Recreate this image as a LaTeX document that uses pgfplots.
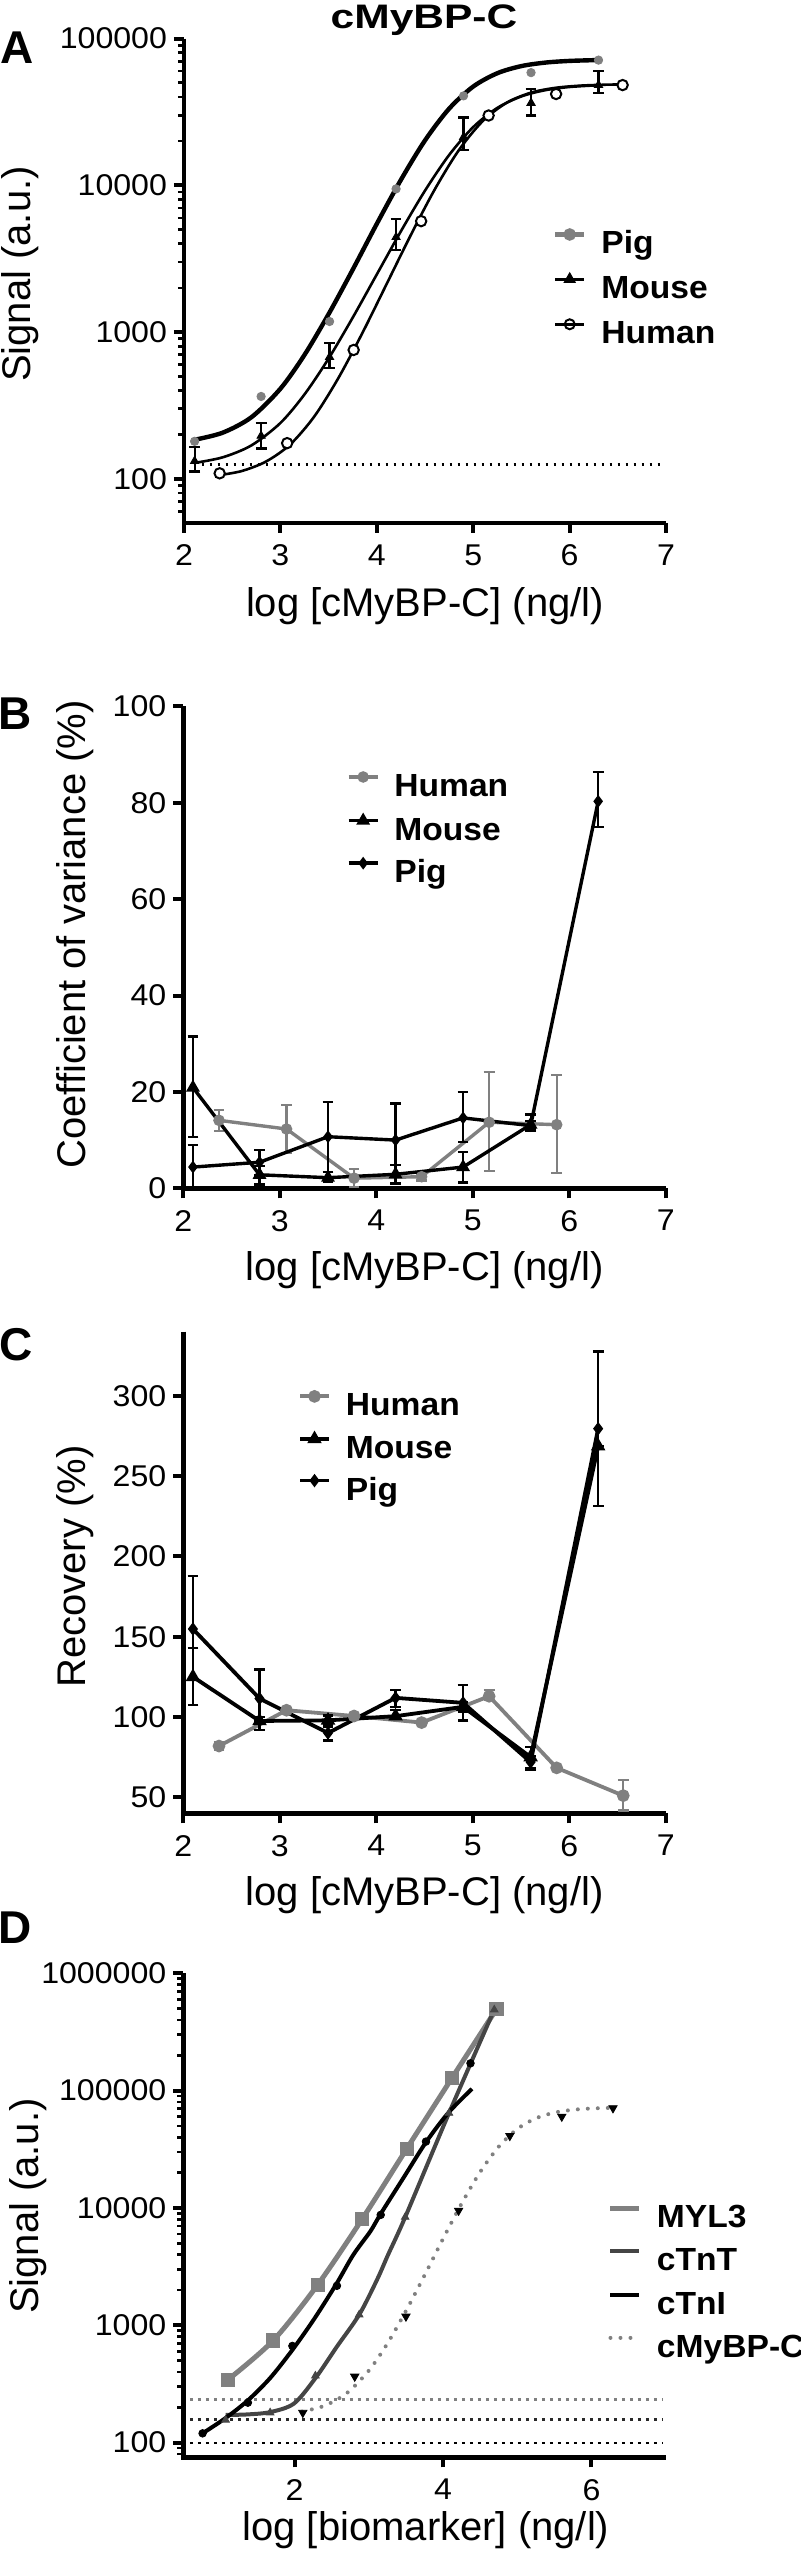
\documentclass[border=0pt]{standalone}
\usepackage{pgfplots}
\pgfplotsset{compat=1.18}
\usepackage{fontspec}
\setmainfont{Liberation Sans}
\newfontfamily\tickfont[FakeStretch=1.07]{Liberation Sans}
\newfontfamily\titlefont[FakeStretch=1.25]{Liberation Sans}
\newfontfamily\legfont[FakeStretch=1.05]{Liberation Sans}
\newcommand\tickf{\tickfont\fontsize{15}{15}\selectfont}
\newcommand\labf{\fontsize{20}{20}\selectfont}
\newcommand\legf{\legfont\bfseries\fontsize{16}{16}\selectfont}
\newcommand\titf{\titlefont\bfseries\fontsize{17}{17}\selectfont}
\newcommand\letf{\bfseries\fontsize{23}{23}\selectfont}
\definecolor{gr}{gray}{0.5}
\definecolor{dg}{gray}{0.27}

\pgfplotsset{
  panel/.style={
    scale only axis, clip=false,
    xtick pos=bottom, ytick pos=left,
    axis line style={draw=none},
    tick align=outside, major tick length=5pt, minor tick length=3pt,
    every tick/.style={black, line width=2pt},
    every minor tick/.append style={line width=1.3pt},
    ticklabel style={font=\tickf},
    xticklabel style={yshift=-2.5pt},
    legend style={draw=none, fill=none, inner sep=0pt, outer sep=0pt, anchor=north west,
      font=\legf, column sep=7.5pt, nodes={inner sep=0pt, text height=11pt, text depth=3pt}},
    legend cell align=left,
    legend image code/.code={\draw[mark repeat=2,mark phase=2,##1] plot coordinates {(0pt,5.75pt) (7.25pt,5.75pt) (14.5pt,5.75pt)};},
    every axis x label/.style={at={(axis description cs:0.5,-0.17)}, anchor=center, font=\labf},
    every axis y label/.style={at={(axis description cs:-0.22,0.5)}, anchor=center, rotate=90, font=\labf},
  },
  ebar/.style={/pgfplots/error bars/y dir=both, /pgfplots/error bars/y explicit,
    /pgfplots/error bars/error bar style={line width=1.1pt},
    /pgfplots/error bars/error mark options={rotate=90, line width=1.1pt, mark size=2.7pt}},
}
\newcommand\Lframe{\draw[black, line width=2.4pt, line join=miter, line cap=butt] (rel axis cs:0,1) -- (rel axis cs:0,0) -- (rel axis cs:1,0);}

% ---------- Panel A data ----------
\pgfplotstableread{
x y
2.11 180
2.80 364
3.51 1180
4.20 9450
4.90 40700
5.60 58600
6.30 71300
}\pigA
\pgfplotstableread{
x y ep em
2.11 132 33 20
2.80 196 43 35
3.51 675 170 105
4.20 4430 1430 790
4.90 21300 7700 3800
5.60 36400 9200 6500
6.30 48200 12000 5600
}\mouseA
\pgfplotstableread{
x y
2.37 109
3.07 175
3.76 755
4.46 5700
5.16 29900
5.86 41900
6.55 48200
}\humanA
% ---------- Panel B data ----------
\pgfplotstableread{
x y ep em
2.37 14.1 2.1 2.2
3.07 12.3 5.0 5.0
3.77 2.1 1.9 1.8
4.47 2.4 0.6 0.8
5.17 13.7 10.4 10.1
5.87 13.2 10.3 10.1
}\humanB
\pgfplotstableread{
x y ep em
2.10 20.9 10.6 10.3
2.79 2.8 1.9 2.0
3.50 2.2 1.1 0.8
4.20 2.9 2.0 1.9
4.90 4.4 3.1 3.2
5.60 13.2 2.1 1.0
}\mouseB
\pgfplotstableread{
x y ep em
2.10 4.4 4.5 4.4
2.79 5.4 2.6 2.6
3.50 10.7 7.2 7.4
4.20 10.0 7.6 5.1
4.90 14.6 5.4 5.0
5.60 13.0 1.0 1.0
6.30 80.3 6.0 5.3
}\pigB
% ---------- Panel C data ----------
\pgfplotstableread{
x y ep em
2.37 81.9 2.5 2.7
3.07 104.2 0 0
3.77 100.6 0 0
4.47 96.5 0 0
5.17 112.9 3.8 2.5
5.87 68.3 0 0
6.56 51.0 9.8 9.3
}\humanC
\pgfplotstableread{
x y ep em
2.10 125.0 18.1 17.7
2.79 97.5 2.5 5.4
3.50 97.9 3.0 3.0
4.20 100.5 4.0 2.0
4.90 106.3 3.0 3.0
5.60 75.0 6.3 7.9
6.30 268.7 0 0
}\mouseC
\pgfplotstableread{
x y ep em
2.10 154.8 33.2 12.0
2.79 111.5 18.1 14.0
3.50 90.0 3.8 4.6
4.20 111.9 4.8 5.6
4.90 108.8 11.0 11.0
5.60 71.9 4.0 4.0
6.30 279.6 48.1 48.4
}\pigC

\begin{document}
\begin{tikzpicture}
\useasboundingbox (0,0) rectangle (400pt,1279.5pt);
\node[font=\titf] at (212pt,1269.5pt) {cMyBP-C};

% ================= A =================
\begin{axis}[panel, at={(92pt,1018pt)}, anchor=south west,
  width=241pt, height=242.2pt,
  xmin=2, xmax=7, ymode=log, ymin=50, ymax=100000,
  xtick={2,3,4,5,6,7}, xticklabels={2,3,4,5,6,7},
  ytick={100,1000,10000,100000}, yticklabels={100,1000,10000,100000},
  minor ytick={60,70,80,90,200,300,400,500,600,700,800,900,2000,3000,4000,5000,6000,7000,8000,9000,20000,30000,40000,50000,60000,70000,80000,90000},
  xlabel={\labf log [cMyBP-C] (ng/l)}, ylabel={\labf Signal (a.u.)},
  xlabel style={at={(axis description cs:0.5,-0.1713)}},
  ylabel style={at={(axis description cs:-0.3402,0.514)}},
  legend style={at={(0.7656,0.6038)}, row sep=7.25pt},
]
\Lframe
\addplot[black, line width=1.3pt, dash pattern=on 1.3pt off 2.7pt, forget plot] coordinates {(2.1,125) (6.95,125)};
\addplot[black, line width=2.2pt, smooth, legend image post style={draw=gr, mark=*, mark size=2pt, mark options={fill=gr, draw=gr}}] coordinates {
(2.1,184)(2.4,206)(2.7,263)(3.0,411)(3.25,699)(3.5,1325)(3.75,2660)(4.0,5463)(4.25,10890)(4.5,20230)(4.75,33260)(5.0,47090)(5.25,58050)(5.5,64940)(5.75,68610)(6.0,70430)(6.3,71380)};
\addlegendentry{Pig}
\addplot[black, line width=1.3pt, smooth, legend image post style={mark=triangle*, mark size=2.4pt, mark options={fill=black}}] coordinates {
(2.1,128)(2.4,140)(2.7,169)(3.0,240)(3.25,376)(3.5,660)(3.75,1254)(4.0,2470)(4.25,4861)(4.5,9197)(4.75,16080)(5.0,24930)(5.25,33690)(5.5,40350)(5.75,44520)(6.0,46780)(6.3,48080)};
\addlegendentry{Mouse}
\addplot[black, line width=1.3pt, smooth, legend image post style={mark=o, mark size=2.5pt, mark options={fill=white, line width=1pt}}] coordinates {
(2.37,106)(2.6,113)(2.85,131)(3.1,171)(3.35,265)(3.6,484)(3.85,984)(4.1,2112)(4.35,4545)(4.6,9344)(4.85,17320)(5.1,27430)(5.35,36620)(5.6,42810)(5.85,46130)(6.1,47730)(6.35,48440)(6.55,48720)};
\addlegendentry{Human}
\addplot[only marks, mark=*, mark size=2.1pt, mark options={fill=gr, draw=gr}, forget plot] table[x=x,y=y] {\pigA};
\addplot[only marks, mark=triangle*, mark size=2.4pt, mark options={fill=black}, black, forget plot, ebar] table[x=x,y=y,y error plus=ep,y error minus=em] {\mouseA};
\addplot[only marks, mark=*, mark size=2.6pt, mark options={fill=white, draw=black, line width=1pt}, black, forget plot] table[x=x,y=y] {\humanA};
\node[font=\letf] at (axis description cs:-0.3454,0.9816) {A};
\end{axis}

% ================= B =================
\begin{axis}[panel, at={(91.65pt,685.35pt)}, anchor=south west,
  width=241.2pt, height=240.95pt,
  xmin=2, xmax=7, ymin=0, ymax=100,
  xtick={2,3,4,5,6,7}, xticklabels={2,3,4,5,6,7},
  ytick={0,20,40,60,80,100}, yticklabels={0,20,40,60,80,100},
  xlabel={\labf log [cMyBP-C] (ng/l)}, ylabel={\labf Coefficient of variance (\%)},
  xlabel style={at={(axis description cs:0.5,-0.1695)}},
  ylabel style={at={(axis description cs:-0.2245,0.5267)}},
  legend style={at={(0.3393,0.8618)}, row sep=6.75pt},
]
\Lframe
\addplot[gr, line width=1.7pt, mark=*, mark size=2pt, mark options={fill=gr, draw=gr}, ebar] table[x=x,y=y,y error plus=ep,y error minus=em] {\humanB};
\addlegendentry{Human}
\addplot[black, line width=1.7pt, mark=triangle*, mark size=2.3pt, mark options={fill=black}, ebar] table[x=x,y=y,y error plus=ep,y error minus=em] {\mouseB};
\addlegendentry{Mouse}
\addplot[black, line width=1.7pt, mark=diamond*, mark size=1.8pt, mark options={fill=black}, ebar] table[x=x,y=y,y error plus=ep,y error minus=em] {\pigB};
\addlegendentry{Pig}
\node[font=\letf] at (axis description cs:-0.3489,0.9842) {B};
\end{axis}

% ================= C =================
\begin{axis}[panel, at={(91.65pt,372.85pt)}, anchor=south west,
  width=241.2pt, height=240.8pt,
  xmin=2, xmax=7, ymin=40, ymax=340,
  xtick={2,3,4,5,6,7}, xticklabels={2,3,4,5,6,7},
  ytick={50,100,150,200,250,300}, yticklabels={50,100,150,200,250,300},
  xlabel={\labf log [cMyBP-C] (ng/l)}, ylabel={\labf Recovery (\%)},
  xlabel style={at={(axis description cs:0.5,-0.1696)}},
  ylabel style={at={(axis description cs:-0.2245,0.5125)}},
  legend style={at={(0.238,0.8748)}, row sep=6.25pt},
]
\Lframe
\addplot[gr, line width=1.9pt, mark=*, mark size=2.2pt, mark options={fill=gr, draw=gr}, ebar] table[x=x,y=y,y error plus=ep,y error minus=em] {\humanC};
\addlegendentry{Human}
\addplot[black, line width=1.9pt, mark=triangle*, mark size=2.3pt, mark options={fill=black}, ebar] table[x=x,y=y,y error plus=ep,y error minus=em] {\mouseC};
\addlegendentry{Mouse}
\addplot[black, line width=1.9pt, mark=diamond*, mark size=1.8pt, mark options={fill=black}, ebar] table[x=x,y=y,y error plus=ep,y error minus=em] {\pigC};
\addlegendentry{Pig}
\node[font=\letf] at (axis description cs:-0.3468,0.9724) {C};
\end{axis}

% ================= D =================
\begin{axis}[panel, at={(91.65pt,50.85pt)}, anchor=south west,
  width=241.2pt, height=242pt,
  xmin=0.5, xmax=7, ymode=log, ymin=75, ymax=1000000,
  xtick={2,4,6}, xticklabels={2,4,6},
  ytick={100,1000,10000,100000,1000000}, yticklabels={100,1000,10000,100000,1000000},
  minor ytick={80,90,200,300,400,500,600,700,800,900,2000,3000,4000,5000,6000,7000,8000,9000,20000,30000,40000,50000,60000,70000,80000,90000,200000,300000,400000,500000,600000,700000,800000,900000},
  xlabel={\labf log [biomarker] (ng/l)}, ylabel={\labf Signal (a.u.)},
  xlabel style={at={(axis description cs:0.503,-0.150)}},
  ylabel style={at={(axis description cs:-0.322,0.519)}},
  legend style={at={(0.8804,0.5202)}, row sep=7.65pt},
]
\Lframe
\addplot[gr, line width=1.3pt, dash pattern=on 1.3pt off 2.7pt, forget plot] coordinates {(0.59,234) (6.96,234)};
\addplot[dg!60!black, line width=1.3pt, dash pattern=on 1.3pt off 2.7pt, forget plot] coordinates {(0.59,158) (6.96,158)};
\addplot[black, line width=1.3pt, dash pattern=on 1.3pt off 2.7pt, forget plot] coordinates {(0.59,99) (6.96,99)};
\addplot[gr, line width=2.5pt, smooth, mark=square*, mark size=2.3pt, mark options={fill=gr, draw=gr}, legend image post style={mark=none}] coordinates {
(1.10,343)(1.71,741)(2.31,2210)(2.91,8040)(3.51,31900)(4.12,128000)(4.72,495000)};
\addlegendentry{MYL3}
\addplot[dg, line width=2pt, smooth] coordinates {
(1.07,172)(1.37,174)(1.67,182)(1.99,215)(2.28,354)(2.57,658)(2.87,1230)(3.11,2440)(3.26,4000)(3.49,8350)(4.08,64300)(4.69,489000)};
\addlegendentry{cTnT}
\addplot[black, line width=2pt, smooth] coordinates {
(0.76,120)(1.07,162)(1.37,229)(1.67,355)(1.97,617)(2.27,1148)(2.57,2291)(2.79,3981)(3.02,6310)(3.16,8913)(3.47,18197)(3.77,36308)(4.07,64565)(4.39,103500)};
\addlegendentry{cTnI}
\addplot[gr, line width=2pt, line cap=round, dash pattern=on 0pt off 5pt, smooth] coordinates {
(2.1,184)(2.4,206)(2.7,263)(3.0,411)(3.25,699)(3.5,1325)(3.75,2660)(4.0,5463)(4.25,10890)(4.5,20230)(4.75,33260)(5.0,47090)(5.25,58050)(5.5,64940)(5.75,68610)(6.0,70430)(6.3,71380)};
\addlegendentry{cMyBP-C}
\addplot[only marks, mark=triangle*, mark size=2.2pt, mark options={fill=dg, draw=dg}, forget plot] coordinates {
(1.07,156)(1.67,180)(2.28,371)(2.87,1230)(3.49,8350)(4.08,64300)(4.69,489000)};
\addplot[only marks, mark=*, mark size=1.9pt, mark options={fill=black, draw=black}, forget plot] coordinates {
(0.76,120)(1.37,219)(1.97,667)(2.57,2170)(3.16,8730)(3.77,36800)(4.37,171000)};
\addplot[only marks, mark=triangle*, mark size=2.4pt, mark options={fill=black, draw=black, rotate=180}, forget plot] coordinates {
(2.11,180)(2.81,366)(3.50,1190)(4.21,9500)(4.90,41200)(5.60,60100)(6.29,71000)};
\node[font=\letf] at (axis description cs:-0.3489,1.0936) {D};
\end{axis}
\end{tikzpicture}
\end{document}
